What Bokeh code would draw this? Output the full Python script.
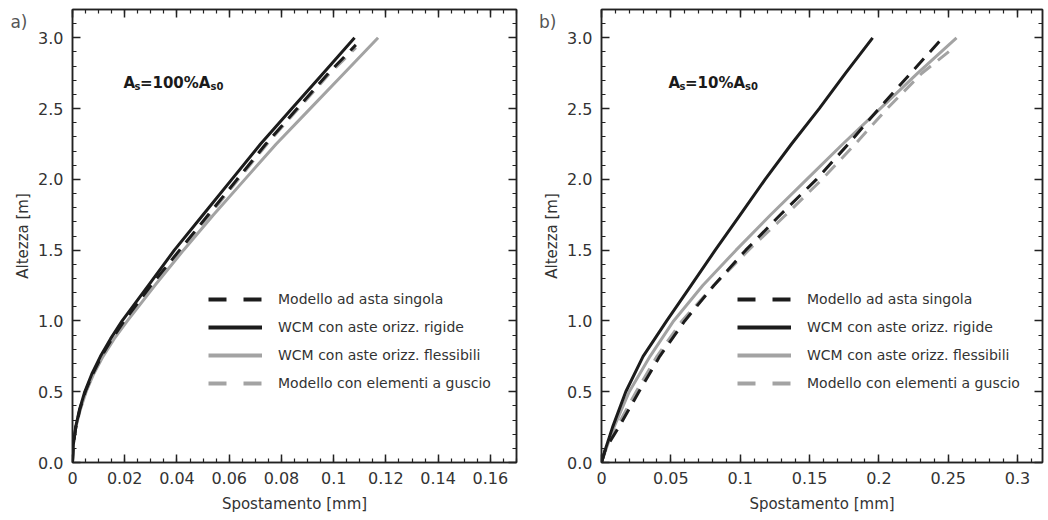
from bokeh.plotting import figure
from bokeh.layouts import row
from bokeh.models import (SingleIntervalTicker, FixedTicker, LinearAxis, Range1d, Legend,
                          LegendItem, Label, ColumnDataSource, CustomJSTickFormatter)
from bokeh.embed import file_html
from bokeh.resources import INLINE

NaN = float("nan")

# ---------------- data ----------------
# panel a) As = 100% As0
ya_rigid = [0, 0.125, 0.25, 0.375, 0.5, 0.625, 0.75, 0.875, 1.0, 1.25, 1.5, 1.75, 2.0, 2.25, 2.5, 2.75, 3.0]
xa_rigid = [0, 0.0003, 0.0012, 0.0027, 0.0047, 0.0074, 0.0107, 0.0146, 0.0190, 0.0290, 0.0390, 0.0500, 0.0610, 0.0720, 0.0840, 0.0960, 0.1080]
ya_single = [0, 0.125, 0.25, 0.375, 0.5, 0.625, 0.75, 0.875, 1.0, 1.25, 1.5, 1.75, 2.0, 2.25, 2.5, 2.75, 2.95]
xa_single = [0, 0.0003, 0.0013, 0.0028, 0.0049, 0.0077, 0.0111, 0.0152, 0.0198, 0.0300, 0.0410, 0.0520, 0.0630, 0.0740, 0.0860, 0.0980, 0.1085]
ya_flex = [0, 0.125, 0.25, 0.375, 0.5, 0.625, 0.75, 0.875, 1.0, 1.25, 1.5, 1.75, 2.0, 2.25, 2.5, 2.75, 3.0]
xa_flex = [0, 0.0003, 0.0013, 0.0030, 0.0052, 0.0081, 0.0117, 0.0160, 0.0210, 0.0315, 0.0425, 0.0540, 0.0660, 0.0780, 0.0910, 0.1040, 0.1170]
ya_shell = [0, 0.125, 0.25, 0.375, 0.5, 0.625, 0.75, 0.875, 1.0, 1.25, 1.5, 1.75, 2.0, 2.25, 2.5, 2.75, 2.93]
xa_shell = [0, 0.0003, 0.0013, 0.0029, 0.0051, 0.0079, 0.0114, 0.0156, 0.0205, 0.0305, 0.0415, 0.0525, 0.0635, 0.0745, 0.0865, 0.0985, 0.1085]

# panel b) As = 10% As0
yb_rigid = [0, 0.1, 0.25, 0.5, 0.75, 1.0, 1.25, 1.5, 1.75, 2.0, 2.25, 2.5, 2.75, 3.0]
xb_rigid = [0, 0.003, 0.008, 0.0175, 0.030, 0.047, 0.0645, 0.082, 0.100, 0.118, 0.137, 0.157, 0.176, 0.1955]
yb_single = [0, 0.1, 0.25, 0.5, 0.75, 1.0, 1.25, 1.5, 1.75, 2.0, 2.25, 2.5, 2.75, 3.0]
xb_single = [0, 0.003, 0.0125, 0.027, 0.042, 0.060, 0.081, 0.104, 0.129, 0.155, 0.178, 0.200, 0.223, 0.246]
yb_flex = [0, 0.1, 0.25, 0.5, 0.75, 1.0, 1.25, 1.5, 1.75, 2.0, 2.25, 2.5, 2.75, 3.0]
xb_flex = [0, 0.0035, 0.009, 0.020, 0.035, 0.052, 0.073, 0.097, 0.122, 0.148, 0.174, 0.201, 0.228, 0.256]
yb_shell = [0, 0.1, 0.25, 0.5, 0.75, 1.0, 1.25, 1.5, 1.75, 2.0, 2.25, 2.5, 2.75, 2.93]
xb_shell = [0, 0.003, 0.011, 0.025, 0.040, 0.058, 0.081, 0.106, 0.133, 0.159, 0.183, 0.206, 0.231, 0.254]

legend_labels = ["Modello ad asta singola", "WCM con aste orizz. rigide",
                 "WCM con aste orizz. flessibili", "Modello con elementi a guscio"]

xa_ticks = [0, 0.02, 0.04, 0.06, 0.08, 0.10, 0.12, 0.14, 0.16]
xa_tick_labels = ["0", "0.02", "0.04", "0.06", "0.08", "0.1", "0.12", "0.14", "0.16"]
xb_ticks = [0, 0.05, 0.10, 0.15, 0.20, 0.25, 0.30]
xb_tick_labels = ["0", "0.05", "0.1", "0.15", "0.2", "0.25", "0.3"]
y_ticks = [0, 0.5, 1.0, 1.5, 2.0, 2.5, 3.0]
y_tick_labels = ["0.0", "0.5", "1.0", "1.5", "2.0", "2.5", "3.0"]

BLACK = "#1c1c1c"
GRAY = "#a3a3a3"
TXT = "#333333"
FONT = "DejaVu Sans"
TAG_Y = 3.11


def style_axis(ax, interval, minor, ticks, labels, show_labels=True):
    ax.ticker = SingleIntervalTicker(interval=interval, num_minor_ticks=minor)
    ax.major_tick_in = 8
    ax.major_tick_out = 0
    ax.minor_tick_in = 4
    ax.minor_tick_out = 0
    ax.axis_line_color = "#222222"
    ax.axis_line_width = 1.5
    ax.major_tick_line_color = "#222222"
    ax.major_tick_line_width = 1.5
    ax.minor_tick_line_color = "#222222"
    ax.minor_tick_line_width = 1.2
    if show_labels:
        ax.major_label_overrides = {t: l for t, l in zip(ticks, labels)}
        ax.major_label_text_font = FONT
        ax.major_label_text_font_size = "16px"
        ax.major_label_text_color = TXT
        ax.major_label_standoff = 9
        ax.axis_label_text_font = FONT
        ax.axis_label_text_font_size = "15px"
        ax.axis_label_text_font_style = "normal"
        ax.axis_label_text_color = TXT
    else:
        ax.formatter = CustomJSTickFormatter(code="return ''")
        ax.major_label_text_font_size = "1px"
        ax.major_label_standoff = 0
        ax.axis_label = None


def bare_axis(**kw):
    return LinearAxis(axis_line_color=None, major_tick_line_color=None,
                      minor_tick_line_color=None, major_tick_in=0, major_tick_out=0,
                      minor_tick_in=0, minor_tick_out=0, **kw)


def make_panel(xmax, xint, xminor, xticks, xlabels, series, tag, tag_standoff, ann_x, ann_mid,
               sub_off, border_left, border_right, width):
    p = figure(width=width, height=520, output_backend="svg", toolbar_location=None,
               x_range=Range1d(0, xmax), y_range=Range1d(0, 3.2),
               min_border_left=border_left, min_border_right=border_right,
               min_border_top=9, min_border_bottom=58)
    p.grid.visible = False
    p.outline_line_color = "#222222"
    p.outline_line_width = 1.5
    p.background_fill_color = "white"
    p.border_fill_color = "white"

    p.xaxis.axis_label = "Spostamento [mm]"
    style_axis(p.xaxis[0], xint, xminor, xticks, xlabels)
    style_axis(p.yaxis[0], 0.5, 5, y_ticks, y_tick_labels)
    p.yaxis[0].axis_label = None
    p.xaxis[0].axis_label_standoff = 8

    # y-axis title on its own (label-only) axis
    ylab = bare_axis(ticker=FixedTicker(ticks=[]), axis_label="Altezza [m]",
                     axis_label_standoff=4, major_label_standoff=0,
                     axis_label_text_font=FONT, axis_label_text_font_size="15px",
                     axis_label_text_font_style="normal", axis_label_text_color=TXT)
    p.add_layout(ylab, "left")
    # panel tag a) / b) as outermost label-only axis
    tagax = bare_axis(ticker=FixedTicker(ticks=[TAG_Y]), major_label_overrides={TAG_Y: tag},
                      major_label_standoff=tag_standoff, major_label_text_font=FONT,
                      major_label_text_font_size="17px", major_label_text_color="#555555",
                      axis_label=None)
    p.add_layout(tagax, "left")

    top = LinearAxis()
    right = LinearAxis()
    style_axis(top, xint, xminor, xticks, xlabels, show_labels=False)
    style_axis(right, 0.5, 5, y_ticks, y_tick_labels, show_labels=False)
    p.add_layout(top, "above")
    p.add_layout(right, "right")

    (xs, ys), (xr, yr), (xf, yf), (xsh, ysh) = series
    # drawing order: gray first, black on top
    p.line(xf, yf, line_color=GRAY, line_width=3)
    p.line(xsh, ysh, line_color=GRAY, line_width=3, line_dash="14 9")
    p.line(xr, yr, line_color=BLACK, line_width=3)
    p.line(xs, ys, line_color=BLACK, line_width=3, line_dash="14 9")

    # legend-only renderers (no visible data)
    def ghost(**kw):
        return p.line("x", "y", source=ColumnDataSource(dict(x=[NaN], y=[NaN])), line_width=4, **kw)
    l1 = ghost(line_color=BLACK, line_dash="18 17")
    l2 = ghost(line_color=BLACK)
    l3 = ghost(line_color=GRAY)
    l4 = ghost(line_color=GRAY, line_dash="18 17")
    items = [LegendItem(label=lab, renderers=[r]) for lab, r in zip(legend_labels, [l1, l2, l3, l4])]
    leg = Legend(items=items, location=(136, 69), glyph_width=54, glyph_height=20,
                 label_height=20, spacing=8, padding=0, margin=0, label_standoff=16,
                 border_line_color=None, background_fill_alpha=0,
                 label_text_font=FONT, label_text_font_size="14px", label_text_color=TXT)
    p.add_layout(leg, "center")

    # annotation A_s = ...% A_s0
    base = dict(x=ann_x, y=2.68, text_font=FONT, text_font_style="bold", text_color="#1a1a1a",
                text_baseline="alphabetic", text_align="left")
    p.add_layout(Label(text="A", text_font_size="15px", **base))
    p.add_layout(Label(text="s", text_font_size="10px", x_offset=11.0, y_offset=-3, **base))
    p.add_layout(Label(text=ann_mid, text_font_size="15px", x_offset=16.5, **base))
    p.add_layout(Label(text="s0", text_font_size="10px", x_offset=sub_off, y_offset=-3, **base))
    return p


pa = make_panel(0.17, 0.02, 4, xa_ticks, xa_tick_labels,
                [(xa_single, ya_single), (xa_rigid, ya_rigid), (xa_flex, ya_flex), (xa_shell, ya_shell)],
                "a)", -17, 0.0195, "=100%A", 87.0, 72, 8, 524)
pb = make_panel(0.318, 0.05, 5, xb_ticks, xb_tick_labels,
                [(xb_single, yb_single), (xb_rigid, yb_rigid), (xb_flex, yb_flex), (xb_shell, yb_shell)],
                "b)", -17, 0.0483, "=10%A", 76.5, 77, 6, 524)

layout = row(pa, pb)
open("out.html", "w").write(file_html(layout, INLINE))
